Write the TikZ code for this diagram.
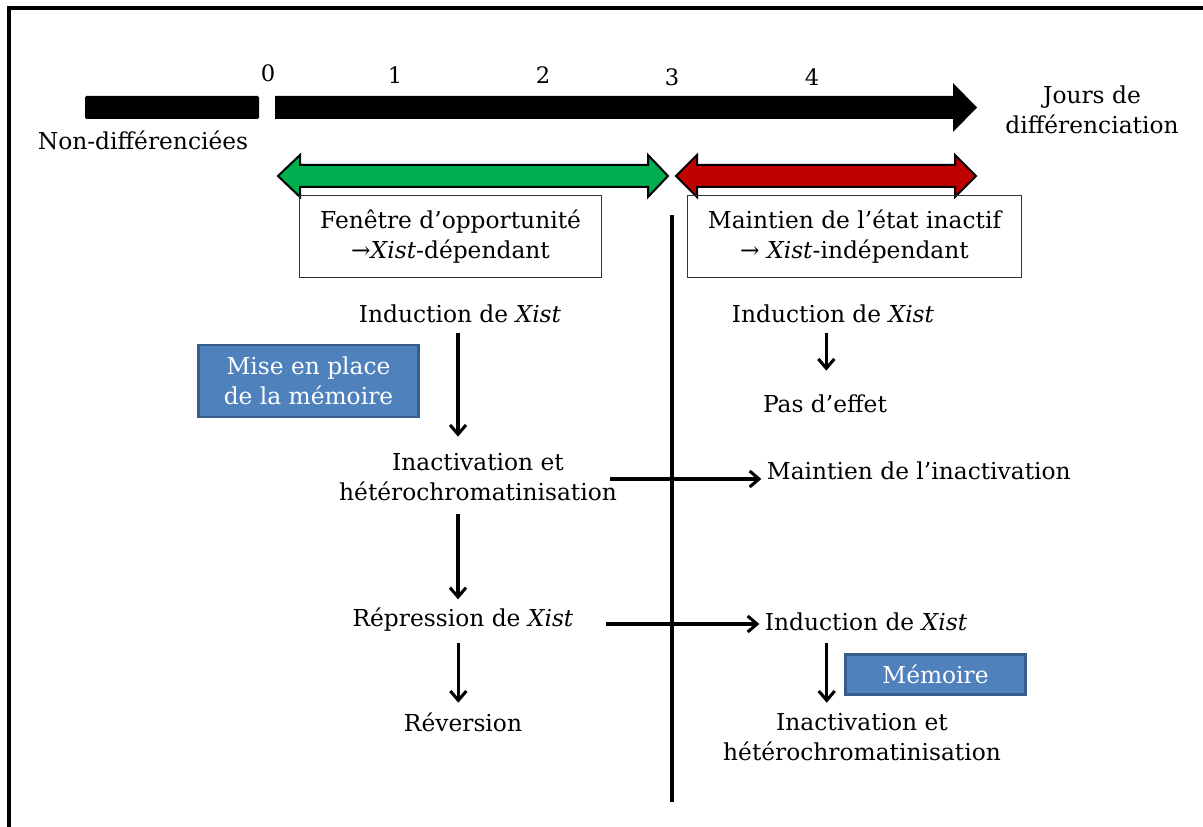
\documentclass[tikz,border=0pt]{standalone}
\usepackage{fontspec}
\setmainfont{DejaVu Serif}
\usetikzlibrary{arrows.meta,calc}
\definecolor{mygreen}{HTML}{00B050}
\definecolor{myred}{HTML}{C00000}
\definecolor{myblue}{HTML}{4F81BD}
\definecolor{myblueb}{HTML}{385D8A}
\tikzset{
  txt/.style={inner sep=2pt,align=center,font=\fontsize{17.5}{22.5}\selectfont},
  num/.style={inner sep=0pt,font=\fontsize{17}{18}\selectfont},
  framebox/.style={txt,draw=black!80,line width=0.8pt,minimum height=61pt},
  bluebox/.style={txt,draw=myblueb,line width=2.2pt,fill=myblue,text=white},
  arr/.style={line width=2.3pt,-{Straight Barb[length=7pt,width=12pt,line width=2.3pt]}},
  fat/.style={draw=black,line width=1.5pt,line join=miter},
}
\begin{document}
\begin{tikzpicture}[x=0.75pt,y=-0.75pt]
\useasboundingbox (0,0) rectangle (1203,827);
% frame
\draw[line width=3pt] (9,827) -- (9,8) -- (1203,8);
% time axis
\fill[rounded corners=1pt] (85,96) rectangle (259,119);
\fill (275,96) -- (953,96) -- (953,83) -- (977,107.5) -- (953,132) -- (953,119) -- (275,119) -- cycle;
\node[num] (n0) at (268,73) {0};
\node[num] (n1) at (395,75) {1};
\node[num] (n2) at (543,75) {2};
\node[num] (n3) at (672,77) {3};
\node[num] (n4) at (812,77) {4};
\node[txt] (undiff) at (143,140) {Non-différenciées};
\node[txt] (jours) at (1092,110) {Jours de\\différenciation};
% double arrows
\filldraw[fat,fill=mygreen] (278,176) -- (300,155) -- (300,165) -- (648,165) -- (648,155) -- (668,176) -- (648,197) -- (648,187) -- (300,187) -- (300,197) -- cycle;
\filldraw[fat,fill=myred] (676,176) -- (697,155) -- (697,165) -- (955,165) -- (955,155) -- (976,176) -- (955,197) -- (955,187) -- (697,187) -- (697,197) -- cycle;
% boxes
\node[framebox,minimum width=226pt] (win) at (450.5,236.5) {Fenêtre d’opportunité\\→\textit{Xist}-dépendant};
\node[framebox,minimum width=250pt] (maintbox) at (854.5,236.5) {Maintien de l’état inactif\\→ \textit{Xist}-indépendant};
% separator
\coordinate (vtop) at (672,215);
\coordinate (vbot) at (672,802);
\draw[line width=2.4pt] (vtop) -- (vbot);
% left column
\node[txt] (ind1) at (460,314) {Induction de \textit{Xist}};
\node[bluebox,minimum width=165pt,minimum height=54pt] (mem1) at (308.5,381) {Mise en place\\de la mémoire};
\node[txt] (inact1) at (478,477) {Inactivation et\\hétérochromatinisation};
\node[txt] (rep) at (463,620) {Répression de \textit{Xist}};
\node[txt] (rev) at (463,722) {Réversion};
% right column
\node[txt] (ind2) at (833,314) {Induction de \textit{Xist}};
\node[txt] (pas) at (825,404) {Pas d’effet};
\node[txt,anchor=west] (maint) at (764,471) {Maintien de l’inactivation};
\node[txt,anchor=west] (ind3) at (762,622) {Induction de \textit{Xist}};
\node[bluebox,minimum width=135pt,minimum height=30pt] (mem2) at (935.5,674.5) {Mémoire};
\node[txt] (inact2) at (862,737) {Inactivation et\\hétérochromatinisation};
% connectors
\draw[arr] ([xshift=-1.5pt]ind1.south) ++(0,-5pt) -- ++(0,104);
\draw[arr] (inact1.south -| ind1.south) ++(-1.5pt,-8pt) -- ++(0,85);
\draw[arr] ([xshift=-3.5pt]rep.south) ++(0,-6pt) -- ++(0,60);
\draw[arr] ([xshift=-5pt]ind2.south) ++(0,-5pt) -- ++(0,38);
\draw[arr] ([xshift=-7pt,yshift=-1.5pt]inact1.east) -- ([xshift=-2pt,yshift=-1.5pt]inact1.east -| maint.west);
\draw[arr] ([xshift=22pt,yshift=-3pt]rep.east) -- ([xshift=-2pt,yshift=-3pt]rep.east -| ind3.west);
\draw[arr] (rep.south -| mem2.west) ++(-13pt,-6pt) -- ++(0,60);
\end{tikzpicture}
\end{document}
